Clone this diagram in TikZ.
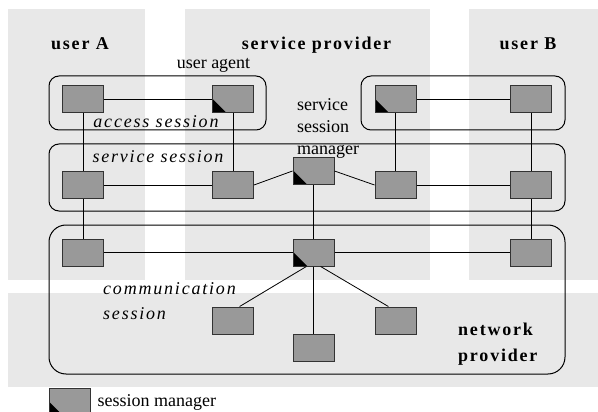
\documentclass[tikz,border=0pt]{standalone}
\usepackage{fontspec}
\setmainfont{Liberation Serif}
\newfontfamily\widefont{Liberation Serif}[LetterSpace=10]
\usetikzlibrary{positioning}
\definecolor{bandgray}{HTML}{E8E8E8}
\definecolor{boxgray}{HTML}{999999}
\definecolor{edgegray}{HTML}{333333}

\tikzset{
  sbox/.style={draw=edgegray, fill=boxgray, line width=1pt, minimum width=41pt, minimum height=27pt, inner sep=0pt},
  mgr/.style={sbox, path picture={\fill[black] (path picture bounding box.south west) -- ++(0pt,14pt) -- ++(14pt,-14pt) -- cycle;}},
  wire/.style={black, line width=0.8pt},
  sess/.style={black, line width=1pt, rounded corners=10pt},
  party/.style={font=\widefont\bfseries\fontsize{18}{25.5}\selectfont, inner sep=0pt},
  sesslabel/.style={font=\widefont\itshape\fontsize{18}{25.5}\selectfont, inner sep=0pt},
  plain/.style={font=\fontsize{18}{22}\selectfont, inner sep=0pt}
}

\begin{document}
\begin{tikzpicture}[x=1pt, y=-1pt]

\clip (0,0) rectangle (598,412);

% Background bands
\fill[bandgray] (8,9) rectangle (145,280);
\fill[bandgray] (185,9) rectangle (430,280);
\fill[bandgray] (469,9) rectangle (598,280);
\fill[bandgray] (8,293) rectangle (598,387);

% Column titles
\node[party, anchor=base] at (80,50) {user A};
\node[party, anchor=base] at (316.5,50) {service provider};
\node[party, anchor=base] at (528,50) {user B};

% Sessions
\draw[sess] (49,76) rectangle (266,130);
\draw[sess] (361,76) rectangle (565,130);
\draw[sess] (49,144) rectangle (565,211);
\draw[sess, rounded corners=17pt] (49,225) rectangle (565,374);

\node[plain, anchor=base] at (213.5,69) {user agent};
\node[sesslabel, anchor=base] at (156,128) {access session};
\node[sesslabel, anchor=base] at (158,162) {service session};
\node[plain, anchor=north west, align=left] at (297,98) {service\\session\\manager};
\node[sesslabel, anchor=north west, align=left] at (103,282) {communication\\session};
\node[party, anchor=north west, align=left] at (458,323) {network\\provider};

% Access row
\node[sbox] (a1) at (83,99.5) {};
\node[mgr] (agent) at (233,99.5) {};
\node[mgr] (b1) at (395.5,99.5) {};
\node[sbox] (b2) at (531,99.5) {};

% Service row
\node[sbox] (a2) at (83,185) {};
\node[sbox] (s2) at (233,185) {};
\node[mgr] (ssm) at (313.5,171) {};
\node[sbox] (b3) at (395.5,185) {};
\node[sbox] (b4) at (531,185) {};

% Communication row
\node[sbox] (a3) at (83,252.5) {};
\node[mgr] (csm) at (313.5,252.5) {};
\node[sbox] (b5) at (531,252.5) {};
\node[sbox] (n1) at (232.5,320.5) {};
\node[sbox] (n2) at (313.5,348) {};
\node[sbox] (n3) at (395.5,320.5) {};

% Connections
\draw[wire] (a1) -- (agent);
\draw[wire] (b1) -- (b2);
\draw[wire] (a1) -- (a2);
\draw[wire] (a2) -- (a3);
\draw[wire] (agent) -- (s2);
\draw[wire] (b1) -- (b3);
\draw[wire] (b2) -- (b4);
\draw[wire] (b4) -- (b5);
\draw[wire] (a2) -- (s2);
\draw[wire] (s2.east) -- (ssm.west);
\draw[wire] (ssm.east) -- (b3.west);
\draw[wire] (b3) -- (b4);
\draw[wire] (ssm) -- (csm);
\draw[wire] (a3) -- (csm);
\draw[wire] (csm) -- (b5);
\draw[wire] (csm.243) -- (n1.63);
\draw[wire] (csm) -- (n2);
\draw[wire] (csm.297) -- (n3.117);

% Legend
\node[mgr] (leg) at (69.5,402) {};
\node[plain, right=7pt of leg] {session manager};

\end{tikzpicture}
\end{document}
